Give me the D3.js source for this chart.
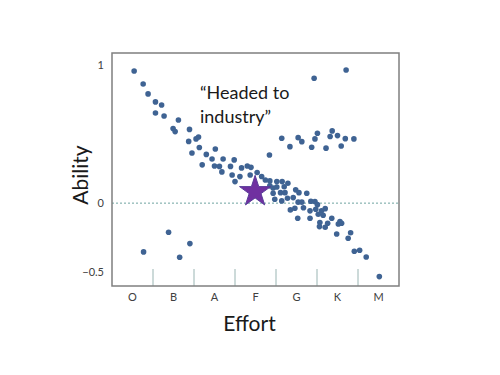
<!DOCTYPE html>
<html>
<head>
<meta charset="utf-8">
<script src="https://cdn.jsdelivr.net/npm/d3@7"></script>
<style>
  body { margin: 0; background: #fff; }
  text { font-family: Lato, "Open Sans", sans-serif; }
</style>
</head>
<body>
<div id="chart"></div>
<script>
// effort categories (spectral classes) and y tick values
let categories = ["O", "B", "A", "F", "G", "K", "M"];
let yTicks = [1, 0, -0.5];

// main diagonal sequence: [effort, ability]
let mainPoints = [
  [0.54, 0.957], [0.76, 0.863], [0.88, 0.791], [1.06, 0.733], [1.21, 0.711],
  [1.06, 0.653], [1.27, 0.631], [1.62, 0.602], [1.49, 0.540], [1.54, 0.518],
  [1.89, 0.534], [2.05, 0.465], [2.11, 0.479], [1.87, 0.447], [2.13, 0.403],
  [1.95, 0.363], [2.52, 0.392], [2.30, 0.353], [2.44, 0.320], [2.71, 0.320],
  [2.98, 0.313], [2.20, 0.277], [2.50, 0.269], [2.62, 0.266], [2.89, 0.266],
  [2.68, 0.226], [3.16, 0.255], [3.30, 0.269], [3.39, 0.259], [2.93, 0.204],
  [3.12, 0.192], [3.37, 0.204], [3.00, 0.156], [3.54, 0.222], [3.65, 0.193],
  [3.74, 0.168], [3.85, 0.161], [4.02, 0.156], [4.15, 0.156], [3.85, 0.125],
  [3.93, 0.110], [4.02, 0.117], [4.20, 0.119], [4.29, 0.144], [3.93, 0.072],
  [4.11, 0.076], [4.22, 0.076], [3.97, 0.028], [4.14, 0.016], [4.28, 0.035],
  [4.42, 0.040], [4.48, 0.096], [4.56, 0.076], [4.75, 0.072], [4.54, 0.007],
  [4.63, 0.007], [4.85, 0.014], [4.95, 0.011], [5.01, -0.011], [4.35, -0.049],
  [4.46, -0.037], [4.67, -0.033], [4.83, -0.056], [4.97, -0.044], [5.11, -0.056],
  [5.20, -0.040], [4.53, -0.109], [4.83, -0.109], [5.03, -0.080], [5.15, -0.088],
  [5.36, -0.109], [5.56, -0.134], [5.60, -0.146], [5.52, -0.151], [5.07, -0.141],
  [5.26, -0.146], [5.20, -0.175], [5.06, -0.170], [5.48, -0.223], [5.82, -0.214],
  [5.76, -0.254], [5.91, -0.348], [6.04, -0.341], [6.20, -0.390], [6.52, -0.532],
  [3.84, 0.349]
];

// upper branch ("headed to industry") plus two high outliers
let upperPoints = [
  [4.14, 0.470], [4.34, 0.409], [4.54, 0.474], [4.63, 0.445], [4.87, 0.405],
  [4.95, 0.465], [5.01, 0.506], [5.22, 0.398], [5.32, 0.482], [5.37, 0.523],
  [5.50, 0.489], [5.59, 0.414], [5.69, 0.467], [5.90, 0.465],
  [4.93, 0.904], [5.71, 0.964]
];

// low-ability stragglers on the left
let lowPoints = [
  [0.77, -0.353], [1.38, -0.211], [1.65, -0.392], [1.90, -0.293]
];

// highlighted position (star)
let starPoint = [3.49, 0.083];

let svgWidth = 500;
let svgHeight = 375;
let margin = { top: 53, right: 101, bottom: 89, left: 112 };
let plotWidth = svgWidth - margin.left - margin.right;
let plotHeight = svgHeight - margin.top - margin.bottom;

let svg = d3.select("#chart")
  .append("svg")
  .attr("width", svgWidth)
  .attr("height", svgHeight);

let chartGroup = svg.append("g")
  .attr("transform", `translate(${margin.left}, ${margin.top})`);

// scales
let xBand = d3.scaleBand()
  .domain(categories)
  .range([0, plotWidth])
  .padding(0);

let xScale = d3.scaleLinear()
  .domain([0, categories.length])
  .range([0, plotWidth]);

let yScale = d3.scaleLinear()
  .domain([-0.6, 1.087])
  .range([plotHeight, 0]);

// zero reference line
chartGroup.append("line")
  .attr("x1", 0)
  .attr("x2", plotWidth)
  .attr("y1", yScale(0))
  .attr("y2", yScale(0))
  .attr("stroke", "#6fa3a0")
  .attr("stroke-width", 1)
  .attr("stroke-dasharray", "2,2");

// band separators along the bottom
chartGroup.selectAll(".sep")
  .data(categories.slice(1))
  .enter()
  .append("line")
  .attr("class", "sep")
  .attr("x1", d => xBand(d))
  .attr("x2", d => xBand(d))
  .attr("y1", plotHeight - 17)
  .attr("y2", plotHeight)
  .attr("stroke", "#9ab5b3")
  .attr("stroke-width", 1);

// frame
chartGroup.append("rect")
  .attr("x", 0)
  .attr("y", 0)
  .attr("width", plotWidth)
  .attr("height", plotHeight)
  .attr("fill", "none")
  .attr("stroke", "#7f7f7f")
  .attr("stroke-width", 1.5);

// category labels
let bottomAxis = d3.axisBottom(xBand).tickSize(0).tickPadding(7);
let xAxisGroup = chartGroup.append("g")
  .attr("transform", `translate(0, ${plotHeight})`)
  .call(bottomAxis);
xAxisGroup.select(".domain").remove();
xAxisGroup.selectAll("text")
  .attr("font-family", "Lato, sans-serif")
  .attr("font-size", 11)
  .attr("fill", "#404040");

// y tick labels
let leftAxis = d3.axisLeft(yScale).tickValues(yTicks).tickSize(0).tickPadding(8)
  .tickFormat(d3.format("~g"));
let yAxisGroup = chartGroup.append("g").call(leftAxis);
yAxisGroup.select(".domain").remove();
yAxisGroup.selectAll("text")
  .attr("font-family", "Lato, sans-serif")
  .attr("font-size", 11)
  .attr("fill", "#404040");

// dots
let allPoints = mainPoints.concat(upperPoints, lowPoints);
chartGroup.selectAll(".dot")
  .data(allPoints)
  .enter()
  .append("circle")
  .attr("class", "dot")
  .attr("cx", d => xScale(d[0]))
  .attr("cy", d => yScale(d[1]))
  .attr("r", 2.8)
  .attr("fill", "#3f6393");

// star
chartGroup.append("path")
  .attr("d", d3.symbol().type(d3.symbolStar).size(300)())
  .attr("transform", `translate(${xScale(starPoint[0])}, ${yScale(starPoint[1])})`)
  .attr("fill", "#7030a0")
  .attr("stroke", "#5a3c9a")
  .attr("stroke-width", 1);

// annotation
let note = chartGroup.append("text")
  .attr("font-size", 18)
  .attr("fill", "#1a1a1a");
note.append("tspan").attr("x", 88).attr("y", 46).text("\u201cHeaded to");
note.append("tspan").attr("x", 88).attr("y", 70).text("industry\u201d");

// axis titles
svg.append("text")
  .attr("transform", `translate(88, ${margin.top + 122}) rotate(-90)`)
  .attr("text-anchor", "middle")
  .attr("font-size", 21)
  .attr("fill", "#1a1a1a")
  .text("Ability");

svg.append("text")
  .attr("x", margin.left + plotWidth / 2 - 6)
  .attr("y", 331)
  .attr("text-anchor", "middle")
  .attr("font-size", 21)
  .attr("fill", "#1a1a1a")
  .text("Effort");
</script>
</body>
</html>
